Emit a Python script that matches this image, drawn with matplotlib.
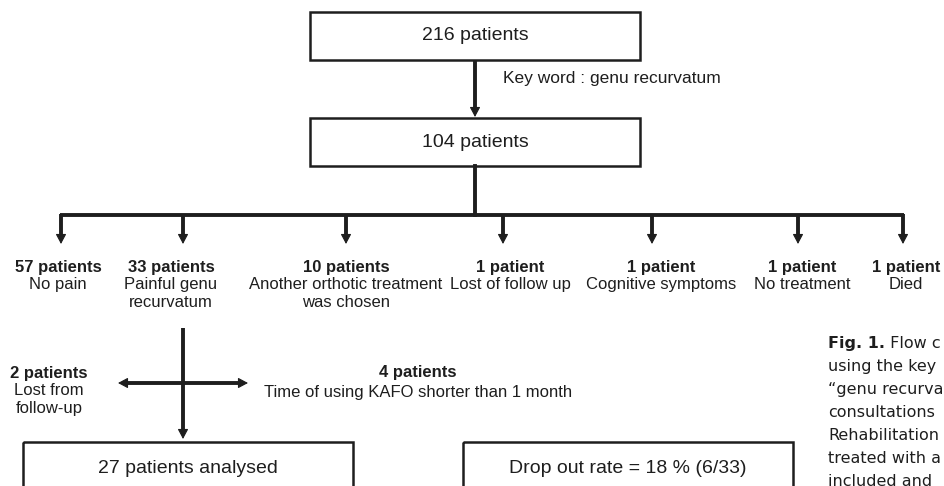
import matplotlib.pyplot as plt
from matplotlib.patches import Rectangle

# flow chart numbers
total_patients = 216
keyword_patients = 104
keyword_label = "Key word : genu recurvatum"

branch_counts = [57, 33, 10, 1, 1, 1, 1]
branch_reasons = ["No pain", "Painful genu\nrecurvatum",
                  "Another orthotic treatment\nwas chosen", "Lost of follow up",
                  "Cognitive symptoms", "No treatment", "Died"]

dropout_counts = [2, 4]
dropout_reasons = ["Lost from\nfollow-up", "Time of using KAFO shorter than 1 month"]

analysed_patients = 27
dropout_rate_text = "Drop out rate = 18 % (6/33)"

# caption is cut by the right edge of the picture
caption_rest = [" Flow c", "using the key", "\u201cgenu recurva", "consultations",
                "Rehabilitation", "treated with a", "included and"]

# layout in pixels (y goes down)
branch_x = [61, 183, 346, 503, 652, 798, 903]
label_x = [58, 171, 346, 510, 661, 802, 906]
ink = '#1e1e1e'
LW = 2.8


def patients(n):
    return f"{n} patient" if n == 1 else f"{n} patients"


plt.rcParams['font.family'] = ['Liberation Sans', 'DejaVu Sans']
fig = plt.figure(figsize=(9.44, 4.86), dpi=100)
ax = fig.add_axes([0, 0, 1, 1])
ax.set_xlim(0, 944)
ax.set_ylim(486, 0)
ax.axis('off')


def box(x0, y0, x1, y1, text, ty):
    ax.add_patch(Rectangle((x0, y0), x1 - x0, y1 - y0, fill=False, ec=ink, lw=1.8))
    ax.text((x0 + x1) / 2, ty, text, ha='center', va='center', fontsize=14, color=ink)


def head(x0, y0, x1, y1):
    # small pointed head at (x1, y1), coming from (x0, y0)
    ax.annotate('', xy=(x1, y1), xytext=(x0, y0),
                arrowprops=dict(arrowstyle='-|>,head_length=0.6,head_width=0.32',
                                lw=0.8, color=ink, shrinkA=0, shrinkB=0, mutation_scale=10))


def arrow(x0, y0, x1, y1):
    dx = (x1 - x0) / max(abs(x1 - x0) + abs(y1 - y0), 1)
    dy = (y1 - y0) / max(abs(x1 - x0) + abs(y1 - y0), 1)
    ax.plot([x0, x1 - 4 * dx], [y0, y1 - 4 * dy], color=ink, lw=LW, solid_capstyle='butt')
    head(x1 - 8 * dx, y1 - 8 * dy, x1, y1)


def label(x, y, count, reason, step=17.5):
    ax.text(x, y, patients(count), ha='center', va='center', fontsize=12,
            fontweight='bold', color=ink)
    for i, line in enumerate(reason.split('\n')):
        ax.text(x, y + step * (i + 1), line, ha='center', va='center', fontsize=12, color=ink)


# top boxes
box(310, 12, 640, 60, patients(total_patients), 36)
arrow(475, 60, 475, 117)
ax.text(503, 78, keyword_label, ha='left', va='center', fontsize=12.5, color=ink)
box(310, 118, 640, 166, patients(keyword_patients), 142)

# branches
ax.plot([475, 475], [166, 215], color=ink, lw=LW)
ax.plot([branch_x[0] - 1, branch_x[-1] + 1], [215, 215], color=ink, lw=LW, solid_capstyle='butt')
for bx, lx, n, r in zip(branch_x, label_x, branch_counts, branch_reasons):
    arrow(bx, 214, bx, 244)
    label(lx, 267, n, r)

# drop outs from painful genu recurvatum
arrow(183, 328, 183, 439)
arrow(183, 383, 118, 383)
arrow(183, 383, 248, 383)
label(49, 373, dropout_counts[0], dropout_reasons[0])
label(418, 372, dropout_counts[1], dropout_reasons[1], step=20)

# bottom boxes (cut by the image edge)
box(23, 442, 353, 520, patients(analysed_patients) + " analysed", 468)
box(463, 442, 793, 520, dropout_rate_text, 468)

# caption at the right
fig.canvas.draw()
r = fig.canvas.get_renderer()
fig_txt = ax.text(828, 343, "Fig. 1.", ha='left', va='center', fontsize=11.5,
                  fontweight='bold', family='DejaVu Sans', color=ink)
ext = fig_txt.get_window_extent(renderer=r)
x_after = ax.transData.inverted().transform((ext.x1, 0))[0]
for i, line in enumerate(caption_rest):
    x = x_after if i == 0 else 828
    ax.text(x, 343 + 23 * i, line, ha='left', va='center', fontsize=11.5,
            family='DejaVu Sans', color=ink)

fig.savefig('out.png', dpi=100)
